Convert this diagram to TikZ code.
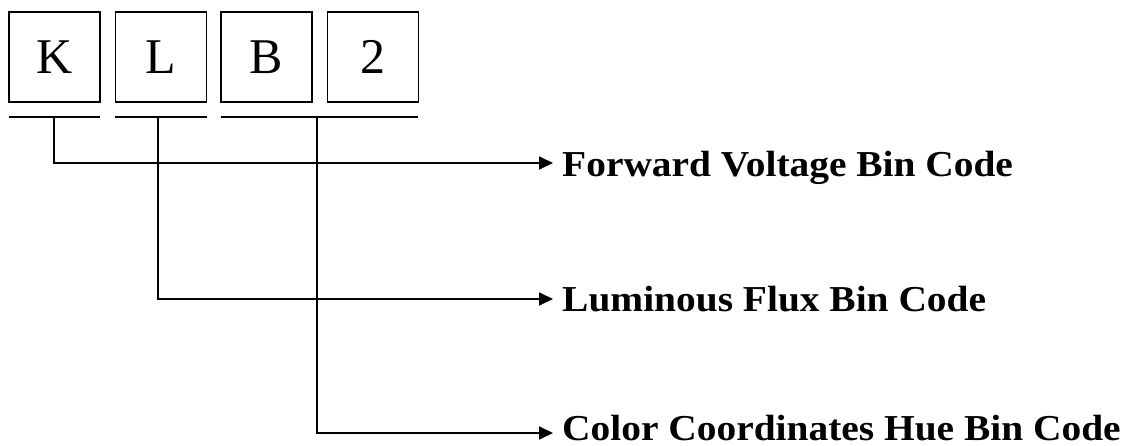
\documentclass[tikz,border=0pt]{standalone}
\usepackage{fontspec}
\usetikzlibrary{arrows.meta}
\newfontfamily\timesf{Liberation Serif}
\newfontfamily\labelf{Liberation Serif}
\tikzset{
  letterbox/.style={draw, line width=1.8pt, minimum width=91pt, minimum height=90pt, inner sep=0pt, font=\timesf\fontsize{50}{50}\selectfont},
  underline/.style={line width=1.8pt},
  conn/.style={line width=1.8pt, -{Triangle[length=14pt,width=13pt]}},
  lbl/.style={anchor=base west, inner sep=0pt, xscale=1.08, font=\labelf\bfseries\fontsize{36.5}{36.5}\selectfont}
}
\begin{document}
\begin{tikzpicture}[x=1pt,y=-1pt]
\useasboundingbox (0,0) rectangle (1135,446);
\node[letterbox] (K) at (54.7,57) {K};
\node[letterbox] (L) at (161,57) {L};
\node[letterbox] (B) at (266.5,57) {B};
\node[letterbox] (T) at (373,57) {2};
\coordinate (u1a) at (9,117); \coordinate (u1b) at (100,117);
\coordinate (u2a) at (115,117); \coordinate (u2b) at (207,117);
\coordinate (u3a) at (221,117); \coordinate (u3b) at (418,117);
\draw[underline] (u1a) -- (u1b);
\draw[underline] (u2a) -- (u2b);
\draw[underline] (u3a) -- (u3b);
\coordinate (k0) at (54,117);
\coordinate (l0) at (158,117);
\coordinate (b0) at (317,117);
\node[lbl] (f1) at (562,177) {Forward Voltage Bin Code};
\node[lbl] (f2) at (562,312) {Luminous Flux Bin Code};
\node[lbl] (f3) at (562,440) {Color Coordinates Hue Bin Code};
\coordinate (a1) at (553,163);
\coordinate (a2) at (553,299);
\coordinate (a3) at (553,433);
\draw[conn] (k0) |- (a1);
\draw[conn] (l0) |- (a2);
\draw[conn] (b0) |- (a3);
\end{tikzpicture}
\end{document}
